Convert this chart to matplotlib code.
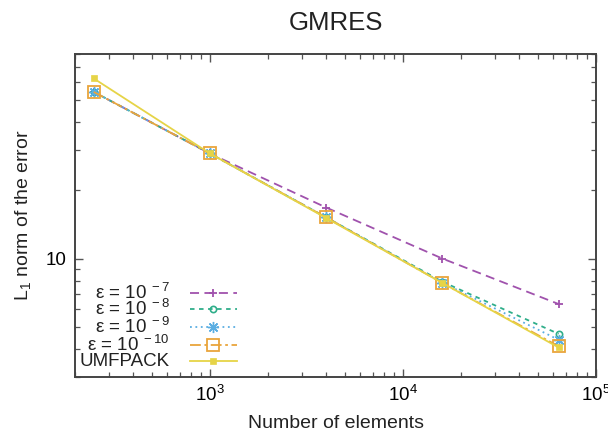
import matplotlib
matplotlib.use("Agg")
import matplotlib.pyplot as plt
from matplotlib.ticker import LogLocator, NullFormatter, FixedLocator, FixedFormatter

plt.rcParams['font.family'] = ['Liberation Sans', 'DejaVu Sans']
plt.rcParams['mathtext.fontset'] = 'custom'
plt.rcParams['mathtext.rm'] = 'Liberation Sans'
plt.rcParams['mathtext.it'] = 'Liberation Sans:italic'

# ---- data ----
n_elements = [250, 1000, 4000, 16000, 64000]
eps7 = [54.4, 29.1, 16.8, 10.0, 6.3]
eps8 = [54.4, 29.1, 15.2, 7.9, 4.65]
eps9 = [54.4, 29.1, 15.2, 7.83, 4.38]
eps10 = [54.4, 29.1, 15.2, 7.8, 4.1]
umfpack = [62.4, 29.1, 15.1, 7.8, 4.05]

labels = ['ε = 10$^{\\ -7}$', 'ε = 10$^{\\ -8}$', 'ε = 10$^{\\ -9}$',
          'ε = 10$^{\\ -10}$', 'UMFPACK']
title = 'GMRES'
xlabel = 'Number of elements'
ylabel = 'L$_1$ norm of the error'
xticks = [1e3, 1e4, 1e5]
xticklabels = ['10$^{3}$', '10$^{4}$', '10$^{5}$']
yticks = [10]
yticklabels = ['10']

colors = ['#a052ad', '#2fae8a', '#5aaee2', '#e9a53c', '#e6d447']
styles = [
    dict(ls=(0, (5, 3)), marker='+', ms=6, mfc='none', mew=1.3),
    dict(ls=(0, (2.5, 2.5)), marker='o', ms=4.5, mfc='none', mew=1.2),
    dict(ls=(0, (1, 2)), marker=(8, 2, 0), ms=8, mfc='none', mew=1.0),
    dict(ls=(0, (6, 2, 1.5, 2)), marker='s', ms=8, mfc='none', mew=1.3),
    dict(ls='-', marker='s', ms=4.5, mew=0.5),
]
series = [eps7, eps8, eps9, eps10, umfpack]

fig = plt.figure(figsize=(6.08, 4.37), dpi=100)
ax = fig.add_axes([75/608, 1-377/437, 521/608, 323/437])

for y, c, st in zip(series, colors, styles):
    ax.plot(n_elements, y, color=c, lw=1.3, **st)

ax.set_xscale('log')
ax.set_yscale('log')
ax.set_xlim(200, 1e5)
ax.set_ylim(3, 80)

ax.xaxis.set_major_locator(FixedLocator(xticks))
ax.xaxis.set_major_formatter(FixedFormatter(xticklabels))
ax.xaxis.set_minor_locator(LogLocator(base=10, subs=range(2, 10)))
ax.xaxis.set_minor_formatter(NullFormatter())
ax.yaxis.set_major_locator(FixedLocator(yticks))
ax.yaxis.set_major_formatter(FixedFormatter(yticklabels))
ax.yaxis.set_minor_locator(LogLocator(base=10, subs=range(2, 10)))
ax.yaxis.set_minor_formatter(NullFormatter())

ax.tick_params(which='both', direction='in', top=True, right=True, color='#555555')
ax.tick_params(which='major', length=6, width=1, labelsize=13.5, pad=6)
ax.tick_params(which='minor', length=3.5, width=0.9)
for s in ax.spines.values():
    s.set_color('#444444')
    s.set_linewidth(1.4)

ax.set_title(title, fontsize=18.5, pad=17, color='#222222')
ax.set_xlabel(xlabel, fontsize=14, labelpad=7, color='#222222')
ax.set_ylabel(ylabel, fontsize=14, labelpad=9, color='#222222')

# gnuplot-style key: right-aligned text, then sample
rows = [0.260, 0.2105, 0.155, 0.099, 0.0495]
for lab, c, st, yr in zip(labels, colors, styles, rows):
    ax.text(0.182, yr, lab, transform=ax.transAxes, ha='right', va='center',
            fontsize=13.5, color='#222222')
    lst = dict(st)
    mk = lst.pop('marker')
    ax.plot([0.221, 0.311], [yr, yr], transform=ax.transAxes, color=c, lw=1.3,
            ls=lst['ls'], clip_on=False)
    ax.plot([0.265], [yr], transform=ax.transAxes, color=c, marker=mk,
            ms=lst['ms'], mfc=lst.get('mfc', c), mew=lst['mew'], ls='none', clip_on=False)

fig.savefig('out.png', dpi=100)
